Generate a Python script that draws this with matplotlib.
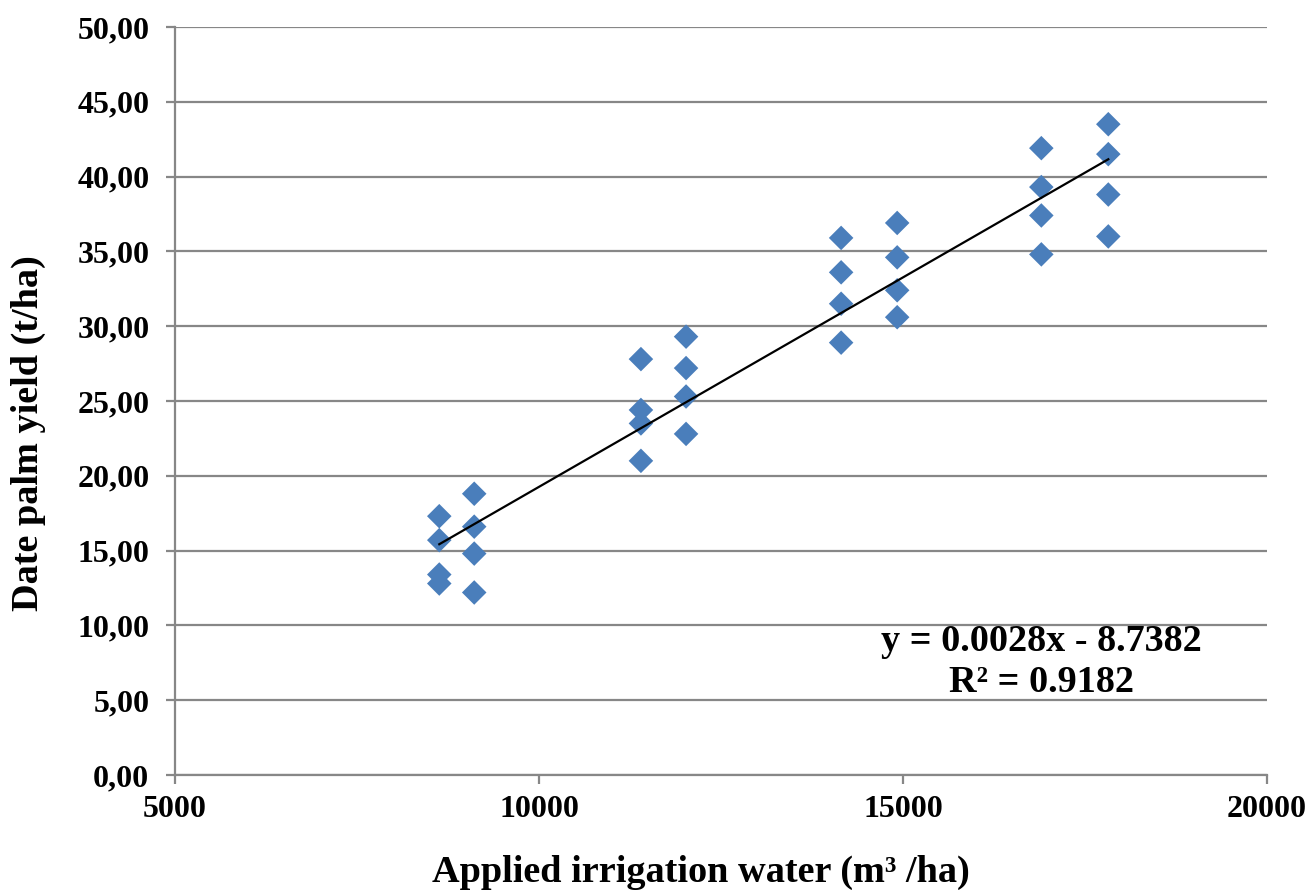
import matplotlib
matplotlib.use("Agg")
import matplotlib.pyplot as plt
import numpy as np

# applied irrigation water (m3/ha) and date palm yield (t/ha)
water = [8630, 8630, 8630, 8630,
         9110, 9110, 9110, 9110,
         11400, 11400, 11400, 11400,
         12020, 12020, 12020, 12020,
         14150, 14150, 14150, 14150,
         14920, 14920, 14920, 14920,
         16900, 16900, 16900, 16900,
         17820, 17820, 17820, 17820]
yield_t = [17.3, 15.7, 13.4, 12.8,
           18.8, 16.6, 14.8, 12.2,
           27.8, 24.4, 23.5, 21.0,
           29.3, 27.2, 25.3, 22.8,
           35.9, 33.6, 31.5, 28.9,
           36.9, 34.6, 32.4, 30.6,
           41.9, 39.3, 37.4, 34.8,
           43.5, 41.5, 38.8, 36.0]

slope, intercept, r2 = 0.0028, -8.7382, 0.9182

x_ticks = [5000, 10000, 15000, 20000]
y_ticks = [0, 5, 10, 15, 20, 25, 30, 35, 40, 45, 50]

plt.rcParams["font.family"] = ["Liberation Serif", "DejaVu Serif"]
plt.rcParams["font.weight"] = "bold"

GREY = "#878787"
BLUE = "#4a7ebb"

fig = plt.figure(figsize=(13.07, 8.9), dpi=100)
ax = fig.add_axes([0.1339, 0.1292, 0.8355, 0.8405])

ax.set_xlim(5000, 20000)
ax.set_ylim(0, 50)
ax.set_xticks(x_ticks)
ax.set_yticks(y_ticks)
ax.set_yticklabels([f"{v:.2f}".replace(".", ",") for v in y_ticks])
ax.set_xticklabels([str(v) for v in x_ticks])

ax.grid(axis="y", color=GREY, lw=1.6)
ax.set_axisbelow(True)
for s in ("top", "right"):
    ax.spines[s].set_visible(False)
for s in ("left", "bottom"):
    ax.spines[s].set_color(GREY)
    ax.spines[s].set_linewidth(1.6)
ax.tick_params(axis="both", colors=GREY, width=1.6, length=6.5,
               labelcolor="black", labelsize=23)
ax.tick_params(axis="x", pad=8)
ax.tick_params(axis="y", pad=12)
for lab in ax.get_xticklabels() + ax.get_yticklabels():
    lab.set_fontweight("bold")

ax.scatter(water, yield_t, marker="D", s=12.5 ** 2, color=BLUE,
           edgecolors="none", zorder=3)

xs = np.array([min(water), max(water)])
ax.plot(xs, slope * xs + intercept, color="black", lw=1.6, zorder=4)

ax.text(16900, 8.9, f"y = {slope:.4f}x - {-intercept:.4f}", ha="center",
        va="center", fontsize=27.5, fontweight="bold")
ax.text(16900, 6.2, f"R² = {r2:.4f}", ha="center", va="center",
        fontsize=27.5, fontweight="bold")

ax.set_xlabel("Applied irrigation water (m³ /ha)", fontsize=27.5,
              fontweight="bold", va="center")
ax.xaxis.set_label_coords(0.482, -0.13)
ax.set_ylabel("Date palm yield (t/ha)", fontsize=27.5, fontweight="bold",
              va="center")
ax.yaxis.set_label_coords(-0.134, 0.457)

fig.savefig("out.png", dpi=100)
